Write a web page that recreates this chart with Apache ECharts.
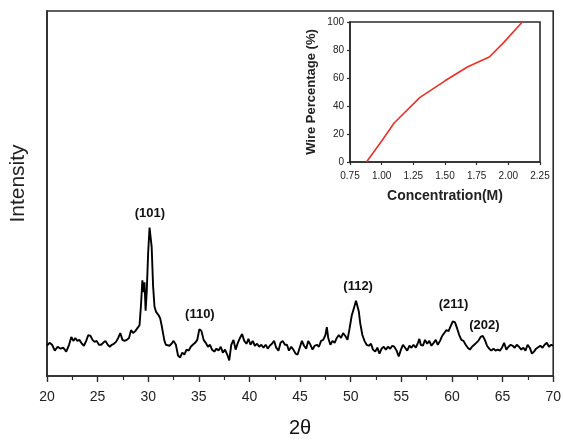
<!DOCTYPE html>
<html>
<head>
<meta charset="utf-8">
<script src="https://cdn.jsdelivr.net/npm/echarts@6/dist/echarts.min.js"></script>
<style>html,body{margin:0;padding:0;background:#fff}#c{width:564px;height:443px}</style>
</head>
<body>
<div id="c"></div>
<script>
// Main XRD pattern: 2-theta (deg) and intensity (a.u.)
const twoTheta = [20.0,20.25,20.5,20.77,21.05,21.34,21.6,21.9,22.18,22.4,22.6,22.8,23.0,23.2,23.45,23.65,23.87,24.08,24.3,24.5,24.7,24.9,25.13,25.35,25.55,25.77,26.0,26.2,26.4,26.6,26.82,27.03,27.24,27.45,27.66,27.88,28.1,28.3,28.5,28.72,28.93,29.14,29.28,29.42,29.53,29.63,29.74,29.85,29.99,30.13,30.23,30.34,30.48,30.62,30.76,30.9,31.04,31.18,31.32,31.46,31.6,31.74,31.88,32.1,32.3,32.5,32.73,32.94,33.15,33.36,33.57,33.78,34.0,34.2,34.4,34.63,34.84,35.05,35.26,35.47,35.68,35.9,36.1,36.3,36.53,36.74,36.95,37.16,37.37,37.58,37.8,38.0,38.2,38.42,38.63,38.85,39.06,39.27,39.48,39.7,39.9,40.1,40.32,40.53,40.75,40.96,41.17,41.38,41.6,41.8,42.0,42.22,42.43,42.64,42.86,43.07,43.28,43.5,43.7,43.9,44.12,44.33,44.55,44.75,44.96,45.18,45.39,45.6,45.8,46.02,46.23,46.44,46.65,46.86,47.07,47.28,47.5,47.64,47.78,47.99,48.2,48.41,48.62,48.83,49.04,49.25,49.47,49.68,49.89,50.1,50.3,50.52,50.66,50.8,50.94,51.15,51.36,51.57,51.79,52.0,52.2,52.42,52.63,52.84,53.05,53.26,53.47,53.68,53.9,54.1,54.3,54.53,54.74,54.96,55.16,55.37,55.58,55.8,56.0,56.2,56.43,56.64,56.78,56.92,57.13,57.34,57.55,57.76,57.97,58.19,58.4,58.6,58.82,59.03,59.24,59.45,59.66,59.87,60.08,60.3,60.5,60.72,60.93,61.14,61.35,61.56,61.77,61.98,62.2,62.4,62.6,62.83,63.04,63.25,63.46,63.67,63.88,64.1,64.3,64.52,64.73,64.94,65.15,65.37,65.58,65.8,66.0,66.2,66.4,66.62,66.84,67.05,67.26,67.47,67.68,67.9,68.1,68.31,68.5,68.73,68.94,69.15,69.37,69.58,69.8,70.0];
const intensity = [31,34,32,26,30,28,29,25,32,40,36,39,36,37,33,31,36,42,41,37,35,36,32,32,34,36,32,30,32,33,35,39,44,37,36,37,39,47,44,46,49,52,72,98,86,96,67,86,126,152,152,132,92,71,66,64,62,59,52,44,36,32,32,31,33,36,32,21,19,24,22,27,26,30,32,34,37,48,46,37,34,30,32,27,25,28,26,30,24,27,22,16,32,37,27,34,39,43,36,33,38,32,36,31,33,30,32,29,32,28,31,33,36,29,26,34,36,32,32,26,30,27,23,22,29,36,31,28,36,32,27,31,32,30,36,37,42,50,39,32,36,34,39,42,39,44,41,37,49,62,69,77,76,66,54,42,36,32,31,33,27,25,29,23,28,30,27,30,28,31,30,26,20,27,32,29,26,31,29,32,29,34,38,32,31,37,33,36,31,34,37,32,36,41,44,47,46,51,56,55,49,42,37,36,32,29,27,30,32,34,36,40,41,37,31,28,26,28,26,27,26,29,34,27,30,32,31,29,32,30,27,29,26,32,29,23,25,28,27,31,29,32,34,30,32,31];

// Peak annotations
const peakLabels = ['(101)','(110)','(112)','(211)','(202)'];
const peakX = [30.16,35.1,50.73,60.15,63.2];
const peakY = [167,63,92,73,52];

// Main x-axis ticks
const xMin = 20, xMax = 70, xStep = 5;

// Inset: wire percentage vs concentration
const concentration = [0.88,1.0,1.1,1.3,1.5,1.68,1.85,1.97,2.11];
const wirePercent = [0,15,28,46,58,68,75,86,100];

const chart = echarts.init(document.getElementById('c'), null, {renderer:'canvas'});
const font = 'Liberation Sans, Arial, sans-serif';
const axisColor = '#2b2b2b';

chart.setOption({
  animation:false,
  backgroundColor:'#fff',
  grid:[
    {left:43, top:11, width:512, height:374, show:true, borderColor:axisColor, borderWidth:1.6, backgroundColor:'transparent', containLabel:false},
    {left:350, top:22, width:190, height:140, show:true, borderColor:axisColor, borderWidth:1.6, backgroundColor:'transparent', containLabel:false}
  ],
  xAxis:[
    {gridIndex:0, type:'value', min:xMin, max:xMax, interval:xStep,
     name:'2\u03B8', nameLocation:'middle', nameGap:42,
     nameTextStyle:{fontFamily:font, fontSize:20, color:'#111'},
     axisLine:{show:true, lineStyle:{color:axisColor, width:1.6}},
     axisTick:{show:true, inside:false, length:6, lineStyle:{color:axisColor, width:1.4}},
     minorTick:{show:true, splitNumber:2, length:4, lineStyle:{color:axisColor, width:1.2}},
     splitLine:{show:false},
     axisLabel:{fontFamily:font, fontSize:14, color:'#222', margin:14}
    },
    {gridIndex:1, type:'value', min:0.75, max:2.25, interval:0.25,
     name:'Concentration(M)', nameLocation:'middle', nameGap:27,
     nameTextStyle:{fontFamily:font, fontSize:14, color:'#222', fontWeight:'bold'},
     axisLine:{show:true, lineStyle:{color:axisColor, width:1.6}},
     axisTick:{show:true, inside:false, length:3, lineStyle:{color:axisColor, width:1.2}},
     splitLine:{show:false},
     axisLabel:{fontFamily:font, fontSize:10, color:'#222', margin:9, formatter:v=>v.toFixed(2)}
    }
  ],
  yAxis:[
    {gridIndex:0, type:'value', min:0, max:374,
     name:'Intensity', nameLocation:'middle', nameGap:18, nameRotate:90,
     nameTextStyle:{fontFamily:font, fontSize:21, color:'#222', padding:[0,0,0,20]},
     axisLine:{show:true, lineStyle:{color:axisColor, width:1.6}},
     axisTick:{show:false}, axisLabel:{show:false}, splitLine:{show:false}
    },
    {gridIndex:1, type:'value', min:0, max:100, interval:20,
     name:'Wire Percentage (%)', nameLocation:'middle', nameGap:32, nameRotate:90,
     nameTextStyle:{fontFamily:font, fontSize:13, color:'#222', fontWeight:'bold'},
     axisLine:{show:true, lineStyle:{color:axisColor, width:1.6}},
     axisTick:{show:true, inside:false, length:3, lineStyle:{color:axisColor, width:1.2}},
     splitLine:{show:false},
     axisLabel:{fontFamily:font, fontSize:10, color:'#222', margin:6}
    }
  ],
  series:[
    {type:'line', xAxisIndex:0, yAxisIndex:0, showSymbol:false, symbol:'none',
     data:twoTheta.map((x,i)=>[x,intensity[i]]),
     lineStyle:{color:'#000', width:1.9}, z:3},
    {type:'scatter', xAxisIndex:0, yAxisIndex:0, symbolSize:2,
     itemStyle:{color:'rgba(0,0,0,0)', opacity:1},
     data:peakX.map((x,i)=>({value:[x,peakY[i]], name:peakLabels[i]})),
     label:{show:true, position:'inside', formatter:p=>p.name,
            fontFamily:font, fontSize:13, fontWeight:'bold', color:'#111'}, z:4},
    {type:'line', xAxisIndex:1, yAxisIndex:1, showSymbol:false, symbol:'none',
     data:concentration.map((x,i)=>[x,wirePercent[i]]),
     lineStyle:{color:'#e8322a', width:1.6}, z:3}
  ]
});
</script>
</body>
</html>
